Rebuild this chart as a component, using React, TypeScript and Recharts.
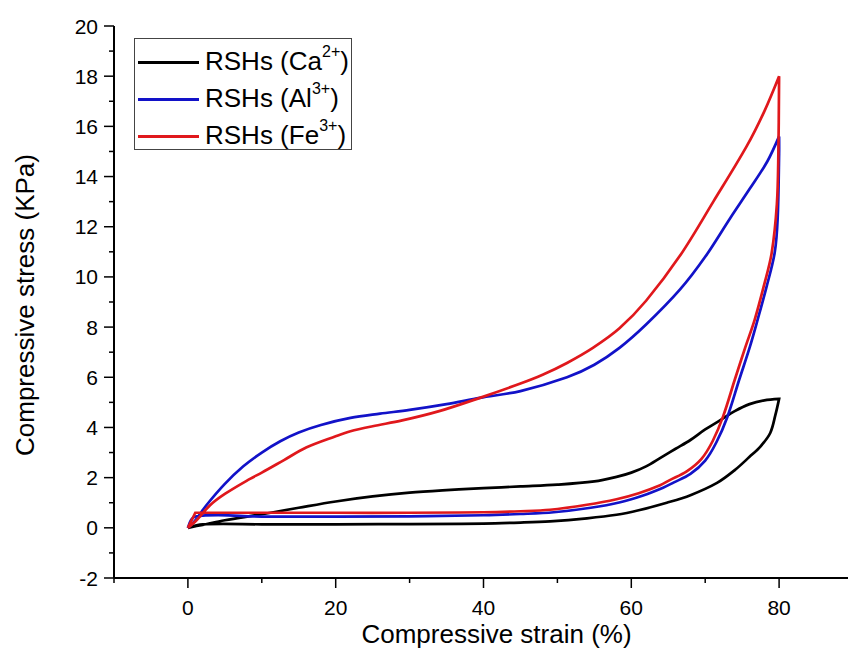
import { LineChart, Line, XAxis, YAxis, Legend } from "recharts";

// axis ticks (majors get labels, the rest are minor ticks)
const strainTicks = [-10, 0, 10, 20, 30, 40, 50, 60, 70, 80, 90];
const stressTicks = [-2, -1, 0, 1, 2, 3, 4, 5, 6, 7, 8, 9, 10, 11, 12, 13, 14, 15, 16, 17, 18, 19, 20];

const seriesNames = ["RSHs (Ca", "RSHs (Al", "RSHs (Fe"];
const seriesCharges = ["2+", "3+", "3+"];
const seriesColors = ["#000000", "#1212c8", "#e0181c"];

// Ca2+ : loading then unloading
const caStrain = [0, 2, 5, 10, 15, 20, 25, 30, 35, 40, 45, 50, 55, 58, 60, 62, 64, 66, 68, 70, 72, 74, 76, 78, 80,
  79.5, 78.8, 77.5, 76, 74, 71.6, 68, 64.8, 61, 58, 54, 49, 45, 40, 30, 20, 10, 2, 0];
const caStress = [0, 0.12, 0.3, 0.54, 0.8, 1.05, 1.25, 1.4, 1.5, 1.58, 1.65, 1.72, 1.85, 2.03, 2.2, 2.45, 2.8, 3.15, 3.5, 3.92, 4.28, 4.65, 4.93, 5.08, 5.14,
  4.5, 3.78, 3.25, 2.83, 2.3, 1.79, 1.3, 1.0, 0.7, 0.52, 0.38, 0.26, 0.21, 0.17, 0.15, 0.14, 0.14, 0.14, 0];

// Al3+
const alStrain = [0, 1, 2.5, 5, 7.5, 10, 12.5, 15, 18, 22, 26, 30, 35, 39.5, 45, 51.3, 55, 58.4, 62, 66.6, 70, 73.4, 76, 78.4, 80,
  80, 79.8, 79.4, 78.3, 77.1, 76, 74.6, 73, 71.5, 70, 68, 65.7, 64.3, 61.5, 58.5, 54.5, 49.5, 45, 40, 30, 20, 10, 1, 0];
const alStress = [0, 0.3, 0.9, 1.75, 2.45, 3.0, 3.45, 3.8, 4.1, 4.38, 4.55, 4.7, 4.93, 5.18, 5.45, 6.0, 6.5, 7.17, 8.1, 9.5, 10.8, 12.35, 13.5, 14.6, 15.6,
  14.9, 12.3, 10.96, 9.6, 8.3, 7.17, 5.9, 4.42, 3.4, 2.68, 2.15, 1.8, 1.6, 1.28, 1.02, 0.8, 0.62, 0.55, 0.5, 0.46, 0.45, 0.45, 0.45, 0];

// Fe3+
const feStrain = [0, 1, 3, 5, 8.4, 10, 13, 16, 20, 22, 25, 29, 34, 39.5, 45, 48, 51.3, 54.8, 58.4, 62, 66.6, 71.1, 75.6, 78, 80,
  79.9, 79.7, 79, 77.9, 76.7, 75.4, 74, 72.4, 71, 69.5, 67.5, 65.2, 63.9, 61, 58, 54, 49, 45, 40, 30, 20, 10, 1, 0];
const feStress = [0, 0.25, 0.9, 1.35, 1.95, 2.2, 2.7, 3.2, 3.65, 3.85, 4.05, 4.28, 4.65, 5.18, 5.75, 6.1, 6.57, 7.17, 7.95, 9.05, 10.85, 13.0, 15.2, 16.6, 18.0,
  14.9, 12.9, 10.96, 9.6, 8.3, 7.17, 5.9, 4.42, 3.45, 2.75, 2.25, 1.9, 1.7, 1.38, 1.14, 0.92, 0.72, 0.66, 0.62, 0.6, 0.6, 0.6, 0.6, 0];

const zip = (xs: number[], ys: number[]) => xs.map((x, i) => ({ x, y: ys[i] }));
const seriesData = [zip(caStrain, caStress), zip(alStrain, alStress), zip(feStrain, feStress)];

const FONT = "'Liberation Sans', Arial, sans-serif";

// smooth path through the points, keeps sharp corners where the curve turns back
function smoothCurve(context: any) {
  let pts: number[][] = [];
  return {
    areaStart() {},
    areaEnd() {},
    lineStart() {
      pts = [];
    },
    point(x: number, y: number) {
      pts.push([+x, +y]);
    },
    lineEnd() {
      const n = pts.length;
      if (!n) return;
      const dirs = pts.map((p, i) => {
        if (i === 0 || i === n - 1) return [0, 0];
        const a = pts[i - 1];
        const b = pts[i + 1];
        const ux = p[0] - a[0], uy = p[1] - a[1];
        const vx = b[0] - p[0], vy = b[1] - p[1];
        const lu = Math.hypot(ux, uy), lv = Math.hypot(vx, vy);
        if (!lu || !lv) return [0, 0];
        if ((ux * vx + uy * vy) / (lu * lv) < 0.5) return [0, 0];
        const dx = b[0] - a[0], dy = b[1] - a[1];
        const l = Math.hypot(dx, dy) || 1;
        return [dx / l, dy / l];
      });
      context.moveTo(pts[0][0], pts[0][1]);
      for (let i = 1; i < n; i++) {
        const p0 = pts[i - 1], p1 = pts[i];
        const s = Math.hypot(p1[0] - p0[0], p1[1] - p0[1]) / 3;
        context.bezierCurveTo(
          p0[0] + dirs[i - 1][0] * s, p0[1] + dirs[i - 1][1] * s,
          p1[0] - dirs[i][0] * s, p1[1] - dirs[i][1] * s,
          p1[0], p1[1]
        );
      }
    },
  };
}

function StressTick({ x, y, payload }: any) {
  const v = payload.value;
  const major = v % 2 === 0;
  return (
    <g>
      <line x1={x} y1={y} x2={x - (major ? 10 : 5)} y2={y} stroke="#000" strokeWidth={1.5} />
      {major && (
        <text x={x - 16} y={y + 7.5} textAnchor="end" fontSize={21} fill="#000">{v}</text>
      )}
    </g>
  );
}

function StrainTick({ x, y, payload }: any) {
  const v = payload.value;
  const major = v % 20 === 0;
  return (
    <g>
      <line x1={x} y1={y} x2={x} y2={y + (major ? 10 : 5)} stroke="#000" strokeWidth={1.5} />
      {major && (
        <text x={x} y={y + 37} textAnchor="middle" fontSize={21} fill="#000">{v}</text>
      )}
    </g>
  );
}

const XTitle = (props: any) => {
  const { x, y, width } = props.viewBox;
  return (
    <text x={x + width / 2 + 13} y={y + 65} textAnchor="middle" fontSize={26} fill="#000">
      Compressive strain (%)
    </text>
  );
};

const YTitle = (props: any) => {
  const { x, y, height } = props.viewBox;
  const cx = x + 34;
  const cy = y + height / 2 + 3;
  return (
    <text x={cx} y={cy} transform={`rotate(-90, ${cx}, ${cy})`} textAnchor="middle" fontSize={26} fill="#000">
      Compressive stress (KPa)
    </text>
  );
};

function LegendBox() {
  return (
    <div style={{ width: 218, height: 112, boxSizing: "border-box", border: "1px solid #444", background: "#fff", paddingTop: 5, fontFamily: FONT }}>
      {seriesNames.map((n, i) => (
        <div key={n} style={{ display: "flex", alignItems: "center", height: 37 }}>
          <div style={{ width: 61, height: 3, background: seriesColors[i], marginLeft: 3 }} />
          <span style={{ marginLeft: 6, fontSize: 26, lineHeight: "26px", whiteSpace: "nowrap", color: "#000" }}>
            {n}
            <span style={{ fontSize: 16, position: "relative", top: -13 }}>{seriesCharges[i]}</span>)
          </span>
        </div>
      ))}
    </div>
  );
}

export default function App() {
  return (
    <div style={{ position: "absolute", left: 0, top: 0, width: 848, height: 648, overflow: "hidden", background: "#fff", fontFamily: FONT }}>
      <LineChart width={880} height={648} margin={{ top: 26, right: 27, left: 0, bottom: 0 }}>
        <XAxis
          type="number"
          dataKey="x"
          domain={[-10, 90]}
          ticks={strainTicks}
          interval={0}
          allowDataOverflow
          tickSize={0}
          tickMargin={0}
          tickLine={false}
          tick={<StrainTick />}
          axisLine={{ stroke: "#000", strokeWidth: 2 }}
          height={70}
          label={XTitle}
        />
        <YAxis
          type="number"
          domain={[-2, 20]}
          ticks={stressTicks}
          interval={0}
          allowDataOverflow
          tickSize={0}
          tickMargin={0}
          tickLine={false}
          tick={<StressTick />}
          axisLine={{ stroke: "#000", strokeWidth: 2 }}
          width={114}
          label={YTitle}
        />
        <Legend
          layout="vertical"
          align="center"
          verticalAlign="middle"
          wrapperStyle={{ left: 134, top: 38 }}
          content={<LegendBox />}
        />
        {seriesData.map((d, i) => (
          <Line
            key={seriesNames[i]}
            data={d}
            dataKey="y"
            name={seriesNames[i] + seriesCharges[i] + ")"}
            type={smoothCurve as any}
            stroke={seriesColors[i]}
            strokeWidth={2.7}
            dot={false}
            activeDot={false}
            isAnimationActive={false}
          />
        ))}
      </LineChart>
    </div>
  );
}
